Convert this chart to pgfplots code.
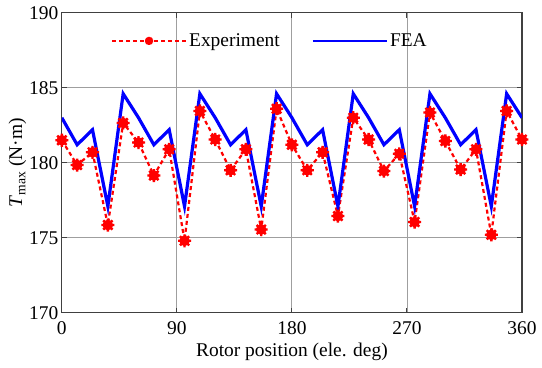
\documentclass[border=0pt]{standalone}
\usepackage{fontspec}
\setmainfont{Liberation Serif}
\usepackage{pgfplots}
\pgfplotsset{compat=1.18}
\newcommand{\lf}{\rmfamily\fontsize{19.5}{21}\selectfont}
\pgfdeclareplotmark{burst}{%
  \pgfpathcircle{\pgfpointorigin}{0.62\pgfplotmarksize}%
  \pgfusepathqfillstroke
  \pgfpathmoveto{\pgfqpoint{0pt}{\pgfplotmarksize}}\pgfpathlineto{\pgfqpoint{0pt}{-\pgfplotmarksize}}%
  \pgfpathmoveto{\pgfqpoint{\pgfplotmarksize}{0pt}}\pgfpathlineto{\pgfqpoint{-\pgfplotmarksize}{0pt}}%
  \pgfpathmoveto{\pgfqpoint{0.707\pgfplotmarksize}{0.707\pgfplotmarksize}}\pgfpathlineto{\pgfqpoint{-0.707\pgfplotmarksize}{-0.707\pgfplotmarksize}}%
  \pgfpathmoveto{\pgfqpoint{-0.707\pgfplotmarksize}{0.707\pgfplotmarksize}}\pgfpathlineto{\pgfqpoint{0.707\pgfplotmarksize}{-0.707\pgfplotmarksize}}%
  \pgfusepathqstroke
}
\pgfplotstableread{
x fea exp
0 183.0 181.50
12 181.2 179.85
24 182.2 180.70
36 177.1 175.85
48 184.6 182.65
60 183.0 181.35
72 181.2 179.15
84 182.2 180.90
96 177.1 174.80
108 184.6 183.45
120 183.0 181.55
132 181.2 179.50
144 182.2 180.90
156 177.1 175.55
168 184.6 183.60
180 183.0 181.20
192 181.2 179.50
204 182.2 180.70
216 177.1 176.45
228 184.6 183.00
240 183.0 181.55
252 181.2 179.45
264 182.2 180.60
276 177.1 176.05
288 184.6 183.35
300 183.0 181.45
312 181.2 179.55
324 182.2 180.90
336 177.1 175.20
348 184.6 183.45
360 183.0 181.55
}\datatable
\begin{document}
\begin{tikzpicture}[font=\lf]
\begin{axis}[
  scale only axis,
  width=460bp, height=300bp,
  xmin=0, xmax=360, ymin=170, ymax=190,
  xtick={0,90,180,270,360},
  ytick={170,175,180,185,190},
  grid=major,
  major grid style={gray!75, line width=0.9bp},
  axis line style={black!75, line width=1.3bp},
  tick style={black!75, line width=1bp},
  tick align=inside,
  major tick length=5bp,
  /pgf/number format/assume math mode=true,
  tick label style={font=\lf},
  xticklabel style={yshift=-5bp},
  label style={font=\lf},
  xlabel={Rotor position (ele. deg)},
  ylabel={\textit{T}\textsubscript{max} (N·m)},
  xlabel style={yshift=-2bp},
  ylabel style={yshift=-4bp},
  legend style={draw=none, fill=none, at={(0.452,0.906)}, anchor=center,
    font=\lf, legend columns=2,
    /tikz/every even column/.append style={column sep=30bp}},
  legend cell align=left,
]
\addplot[red, line width=2.2bp, dash pattern=on 4bp off 3bp,
  mark=burst, mark size=6.5bp, mark options={solid, fill=red, line width=2.4bp},
  legend image code/.code={\draw[mark repeat=2, mark phase=2, mark size=4bp]
    plot coordinates {(0bp,0bp) (37bp,0bp) (74bp,0bp)};}]
  table[x=x, y=exp] {\datatable};
\addlegendentry{Experiment}
\addplot[blue, line width=3.2bp,
  legend image code/.code={\draw[line width=2.2bp] (0bp,0bp) -- (74bp,0bp);}]
  table[x=x, y=fea] {\datatable};
\addlegendentry{FEA}
\end{axis}
\path (current axis.south west) ++(-61.8bp,-54.3bp) rectangle ([xshift=20bp,yshift=12.7bp]current axis.north east);
\end{tikzpicture}
\end{document}
